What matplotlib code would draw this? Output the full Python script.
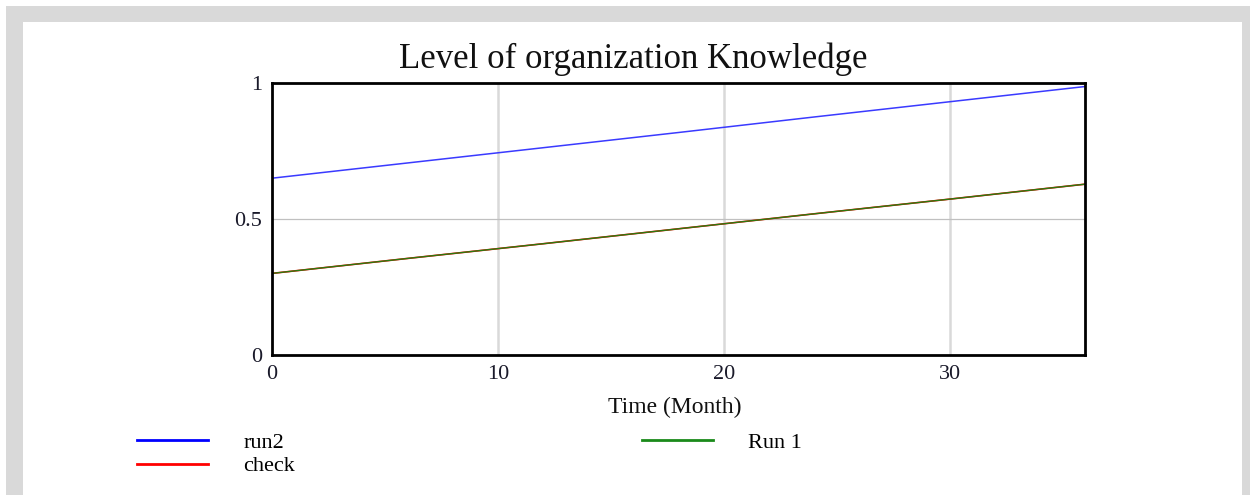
import matplotlib
matplotlib.use("Agg")
import matplotlib.pyplot as plt
from matplotlib.patches import Rectangle
from matplotlib.lines import Line2D

# data
months = [0, 6, 12, 18, 24, 30, 36]
run2 = [0.650, 0.706, 0.762, 0.818, 0.875, 0.931, 0.987]
check = [0.300, 0.355, 0.409, 0.464, 0.519, 0.573, 0.628]
run1 = [0.300, 0.355, 0.409, 0.464, 0.519, 0.573, 0.628]
x_ticks = [0, 10, 20, 30]
y_ticks = [0, 0.5, 1]
y_tick_labels = ["0", "0.5", "1"]

plt.rcParams["font.family"] = ["Liberation Serif", "DejaVu Serif"]

W, H = 1250, 495
fig = plt.figure(figsize=(W / 100, H / 100), dpi=100)
fig.patch.set_facecolor("white")

# grey frame around the panel
grey = "#d9d9d9"
fig.add_artist(Rectangle((6 / W, 1 - 22 / H), (W - 6) / W, 16 / H,
                         transform=fig.transFigure, color=grey, lw=0))
fig.add_artist(Rectangle((6 / W, 0), 17 / W, 1 - 6 / H,
                         transform=fig.transFigure, color=grey, lw=0))
fig.add_artist(Rectangle((1242 / W, 0), 8 / W, 1 - 6 / H,
                         transform=fig.transFigure, color=grey, lw=0))

ax = fig.add_axes([272 / W, 1 - 355 / H, (1085 - 272) / W, (355 - 83) / H])
ax.set_xlim(0, 36)
ax.set_ylim(0, 1)

for xt in x_ticks[1:]:
    ax.axvline(xt, color="#d9d9d9", lw=1.8, zorder=0)
ax.axhline(0.5, color="#c0c0c0", lw=0.9, zorder=0)

ax.plot(months, run2, color="#3a3aff", lw=1.1, label="run2")
ax.plot(months, check, color="#ff0000", lw=1.2, label="check")
ax.plot(months, run1, color="#2a7a10", lw=1.0, label="Run 1")

ax.set_xticks(x_ticks)
ax.set_yticks(y_ticks)
ax.set_yticklabels(y_tick_labels)
ax.tick_params(length=0, labelsize=16, colors="#1a1a2a", pad=7)
for s in ax.spines.values():
    s.set_linewidth(2)
    s.set_color("black")

fig.text(633 / W, 1 - 59 / H, "Level of organization Knowledge",
         ha="center", va="center", fontsize=25, color="#111111")
fig.text(675 / W, 1 - 407 / H, "Time (Month)",
         ha="center", va="center", fontsize=17, color="#111111")

handles = [Line2D([], [], color="#0000ff", lw=2),
           Line2D([], [], color="#ff0000", lw=2),
           Line2D([], [], color="#1a8a1a", lw=2)]
fig.legend(handles, ["run2", "check", "Run 1"], ncol=2,
           loc="upper left", bbox_to_anchor=(137 / W, 1 - 432 / H),
           frameon=False, fontsize=16, handlelength=3.2, handletextpad=1.58,
           columnspacing=15.6, labelspacing=0.15, borderpad=0, borderaxespad=0)

fig.savefig("out.png", dpi=100)
